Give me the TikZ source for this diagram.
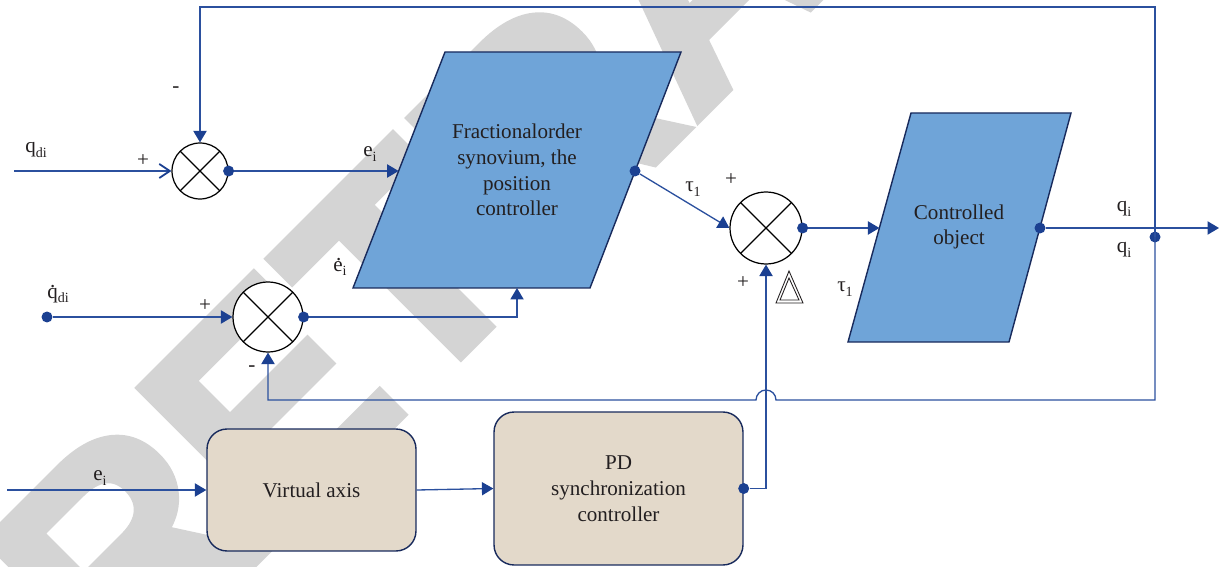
\documentclass[tikz,border=0pt]{standalone}
\usepackage{fontspec}
\setmainfont{Liberation Serif}
\newfontfamily\wmfont{Liberation Sans Bold}[FakeBold=2.5]
\usetikzlibrary{arrows.meta}
\definecolor{lineblue}{RGB}{43,80,158}
\definecolor{dotblue}{RGB}{27,64,145}
\definecolor{boxblue}{RGB}{111,164,216}
\definecolor{beige}{RGB}{227,217,202}
\definecolor{navy}{RGB}{24,42,92}
\definecolor{wmgray}{RGB}{212,212,212}
\definecolor{txt}{RGB}{35,31,32}
\newcommand{\lsub}[1]{\raisebox{-0.45ex}{\fontsize{8}{8}\selectfont #1}}
\newcommand{\dotover}[1]{\rlap{\kern0.13em\raisebox{0.5em}{.}}#1}
\tikzset{
  conn/.style={draw=lineblue, line width=0.75pt},
  arr/.style={conn, -{Triangle[length=6.5pt,width=7.5pt,color=dotblue]}},
  openarr/.style={conn, -{Straight Barb[length=6pt,width=8pt,line width=1pt,color=dotblue]}},
  sumc/.style={circle, draw=black, fill=white, line width=0.7pt, inner sep=0pt,
    path picture={\draw[black, line width=0.7pt]
      (path picture bounding box.north west) -- (path picture bounding box.south east)
      (path picture bounding box.north east) -- (path picture bounding box.south west);}},
  jdot/.style={circle, fill=dotblue, inner sep=0pt, minimum size=0.22cm},
  lbl/.style={text=txt, font=\fontsize{12}{14}\selectfont, inner sep=0pt},
  blk/.style={text=txt, align=center, font=\fontsize{12}{14.7}\selectfont, inner sep=0pt},
  para/.style={fill=boxblue, draw=navy, line width=0.8pt, line join=miter},
  rbox/.style={rectangle, rounded corners=0.4cm, fill=beige, draw=navy, line width=0.8pt,
    text=txt, align=center, font=\fontsize{12}{14.7}\selectfont},
  wmark/.style={text=wmgray, inner sep=0pt, anchor=base west,
    font=\wmfont\fontsize{170}{170}\selectfont}
}
\begin{document}
\begin{tikzpicture}[x=0.02cm, y=-0.02cm]
\path[use as bounding box] (0,0) rectangle (1219,567);
\clip (0,0) rectangle (1219,567);
% watermark
\node[wmark, rotate=45] (wm) at (118,700) {RETRACTED};

% blocks
\draw[para] (445,52) -- (681,52) -- (590,288) -- (353,288) -- cycle;
\node[blk] (fo) at (517,170) {Fractionalorder\\synovium, the\\position\\controller};
\draw[para] (911,113) -- (1071,113) -- (1009,342) -- (848,342) -- cycle;
\node[blk] (co) at (959,227) {Controlled\\object};
\coordinate (foin) at (398.6,171);
\coordinate (fobot) at (517,288);
\coordinate (coin) at (879.4,228);

\node[rbox, minimum width=4.18cm, minimum height=2.44cm] (va) at (311.5,490) {Virtual axis};
\node[rbox, minimum width=4.98cm, minimum height=3.06cm] (pd) at (618.5,488.5) {PD\\synchronization\\controller};

% summing junctions
\node[sumc, minimum size=1.12cm] (s1) at (200,171) {};
\node[sumc, minimum size=1.4cm] (s2) at (268,317) {};
\node[sumc, minimum size=1.44cm] (s3) at (766,228) {};

% dots
\node[jdot] (d1) at (s1.east) {};
\node[jdot] (d2) at (s2.east) {};
\node[jdot] (d3) at (635,171) {};
\node[jdot] (d4) at (s3.east) {};
\node[jdot] (d5) at (1040,228) {};
\node[jdot] (d6) at (pd.east) {};
\node[jdot] (qd) at (47,317) {};
\node[jdot] (jq) at (1155,237) {};
\coordinate (qin) at (14,171);
\coordinate (ein) at (7,490);
\coordinate (qout) at (1219,228);
\coordinate (tr) at (1155,7);
\coordinate (hopR) at (776,400);

% connectors
\draw[openarr] (qin) -- (s1.west);
\draw[arr] (d1) -- (foin);
\draw[arr] (jq.center) -- (tr) -| (s1.north);
\draw[arr] (jq.center) |- (hopR) arc[start angle=0, end angle=180, radius=0.2cm] -| (s2.south);
\draw[arr] (qd) -- (s2.west);
\draw[arr] (d2) -| (fobot);
\draw[arr] (d3) -- (s3.west);
\draw[arr] (d4) -- (coin);
\draw[arr] (d5) -- (qout);
\draw[arr] (ein) -- (va.west);
\draw[arr] (va.east) -- (pd.west);
\draw[arr] (d6) -| (s3.south);

% labels
\node[lbl] (l1) at (36,150) {q\lsub{di}};
\node[lbl] (l2) at (143,161) {+};
\node[lbl] (l3) at (176,90) {-};
\node[lbl] (l4) at (370,154) {e\lsub{i}};
\node[lbl] (l5) at (340,267) {\dotover{e}\lsub{i}};
\node[lbl] (l6) at (58,294) {\dotover{q}\lsub{di}};
\node[lbl] (l7) at (205,306) {+};
\node[lbl] (l8) at (252,369) {-};
\node[lbl] (l9) at (693,189) {τ\lsub{1}};
\node[lbl] (l10) at (731,180) {+};
\node[lbl] (l11) at (743,283) {+};
\node[lbl] (l12) at (845,289) {τ\lsub{1}};
\node[lbl] (l13) at (1124,209) {q\lsub{i}};
\node[lbl] (l14) at (1124,250) {q\lsub{i}};
\node[lbl] (l15) at (100,478) {e\lsub{i}};
% delta symbol
\draw[txt, line width=0.5pt, line join=miter] (776,303) -- (789,271) -- (803,303) -- cycle;
\draw[txt, line width=0.5pt, line join=miter] (780,300) -- (789,278) -- (799,300) -- cycle;
\end{tikzpicture}
\end{document}
